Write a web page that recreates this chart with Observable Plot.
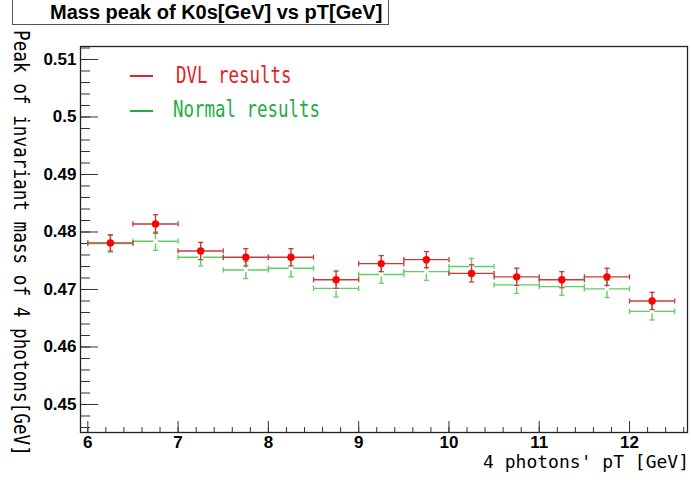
<!DOCTYPE html>
<html>
<head>
<meta charset="utf-8">
<script src="https://cdn.jsdelivr.net/npm/d3@7"></script>
<script src="https://cdn.jsdelivr.net/npm/@observablehq/plot@0.6"></script>
<style>
  html, body { margin: 0; padding: 0; background: #fff; }
  #wrap { position: relative; width: 691px; height: 484px; overflow: hidden; }
  #wrap svg { position: absolute; left: 0; top: 0; }
  .ov { position: absolute; white-space: nowrap; }
  #titlebox { left: 12px; top: -2px; width: 377px; height: 27px; box-sizing: border-box;
    border: 1.5px solid #555; background: #fff; }
  #title { left: 50px; top: 2.3px; font: bold 20px "Liberation Sans", Arial, sans-serif; line-height: 20px; color: #000; }
  .mono { font-family: "DejaVu Sans Mono", monospace; }
  .leg { font-size: 22.5px; line-height: 22.5px; transform-origin: 0 0; transform: scaleX(0.775); }
  .legline { height: 2.5px; width: 23px; }
  #ylab { left: 31px; top: 30px; font-size: 21px; line-height: 21px; color: #000;
    transform-origin: 0 0; transform: rotate(90deg) scaleX(0.842); }
  #xlab { right: 2px; top: 453px; font-size: 18px; line-height: 18px; color: #000; }
</style>
</head>
<body>
<div id="wrap"></div>
<script>
// ---- data ----
const ptCenter   = [6.25, 6.75, 7.25, 7.75, 8.25, 8.75, 9.25, 9.75, 10.25, 10.75, 11.25, 11.75, 12.25];
const ptHalfBin  = [0.25, 0.25, 0.25, 0.25, 0.25, 0.25, 0.25, 0.25, 0.25, 0.25, 0.25, 0.25, 0.25];
const dvlPeak    = [0.4781, 0.4814, 0.4767, 0.4756, 0.4756, 0.4717, 0.4745, 0.4752, 0.4728, 0.4722, 0.4717, 0.4722, 0.4680];
const dvlErr     = [0.0014, 0.0016, 0.0015, 0.0015, 0.0015, 0.0015, 0.0014, 0.0014, 0.0015, 0.0015, 0.0014, 0.0015, 0.0015];
const normalPeak = [0.4780, 0.4784, 0.4756, 0.4734, 0.4737, 0.4702, 0.4726, 0.4731, 0.4740, 0.4708, 0.4705, 0.4701, 0.4662];
const normalErr  = [0.0015, 0.0016, 0.0015, 0.0015, 0.0015, 0.0015, 0.0015, 0.0015, 0.0014, 0.0015, 0.0015, 0.0015, 0.0015];

const xTickValues = [6, 7, 8, 9, 10, 11, 12];
const xTickLabels = ["6", "7", "8", "9", "10", "11", "12"];
const xMinorTicks = d3.range(6, 12.61, 0.2).map(v => +v.toFixed(1));
const yTickValues = [0.45, 0.46, 0.47, 0.48, 0.49, 0.50, 0.51];
const yTickLabels = ["0.45", "0.46", "0.47", "0.48", "0.49", "0.5", "0.51"];
const yMinorTicks = d3.range(0.446, 0.5121, 0.002).map(v => +v.toFixed(3));
const xDomain = [5.919, 12.642];
const yDomain = [0.44513, 0.51226];

const titleText = "Mass peak of K0s[GeV] vs pT[GeV]";
const xLabelText = "4 photons' pT [GeV]";
const yLabelText = "Peak of invariant mass of 4 photons[GeV]";
const seriesNames = ["DVL results", "Normal results"];

// ---- styling ----
const RED_PT = "#ff0000", RED_BAR = "#c63c3c", GREEN_BAR = "#5fcf5f";
const LEG_RED = "#e3212b", LEG_GREEN = "#22ad45";

function rows(peaks, errs) {
  return ptCenter.map((x, i) => ({
    x, lo: x - ptHalfBin[i], hi: x + ptHalfBin[i],
    y: peaks[i], y1: peaks[i] - errs[i], y2: peaks[i] + errs[i]
  }));
}
const dvl = rows(dvlPeak, dvlErr);
const normal = rows(normalPeak, normalErr);

// cap symbols for error bar ends
const hCap = { draw(ctx) { ctx.moveTo(-2.6, 0); ctx.lineTo(2.6, 0); } };
const vCap = { draw(ctx) { ctx.moveTo(0, -2.6); ctx.lineTo(0, 2.6); } };

function errorMarks(data, color) {
  return [
    Plot.ruleY(data, { y: "y", x1: "lo", x2: "hi", stroke: color, strokeWidth: 1.4 }),
    Plot.ruleX(data, { x: "x", y1: "y1", y2: "y2", stroke: color, strokeWidth: 1.4 }),
    Plot.dot(data, { x: "lo", y: "y", symbol: vCap, stroke: color, strokeWidth: 1.3, fill: "none", r: 3 }),
    Plot.dot(data, { x: "hi", y: "y", symbol: vCap, stroke: color, strokeWidth: 1.3, fill: "none", r: 3 }),
    Plot.dot(data, { x: "x", y: "y1", symbol: hCap, stroke: color, strokeWidth: 1.3, fill: "none", r: 3 }),
    Plot.dot(data, { x: "x", y: "y2", symbol: hCap, stroke: color, strokeWidth: 1.3, fill: "none", r: 3 })
  ];
}

const chart = Plot.plot({
  width: 691,
  height: 484,
  marginLeft: 80,
  marginRight: 4,
  marginTop: 46,
  marginBottom: 52,
  style: { fontFamily: "'Liberation Sans', Arial, sans-serif", fontSize: "17px", fontWeight: "bold", color: "#000", background: "transparent" },
  x: { domain: xDomain, label: null, axis: null },
  y: { domain: yDomain, label: null, axis: null },
  marks: [
    Plot.axisY(yMinorTicks, { tickSize: -10, tickFormat: () => "", label: null, stroke: "#333" }),
    Plot.axisY(yTickValues, { tickSize: -18, tickPadding: 22, label: null, stroke: "#333",
      tickFormat: d => yTickLabels[yTickValues.indexOf(d)], fontSize: 17, fontWeight: "bold", fill: "#000" }),
    Plot.axisX(xMinorTicks, { tickSize: -5, tickFormat: () => "", label: null, stroke: "#333" }),
    Plot.axisX(xTickValues, { tickSize: -11, tickPadding: 14, label: null, stroke: "#333",
      tickFormat: d => xTickLabels[xTickValues.indexOf(d)], fontSize: 17, fontWeight: "bold", fill: "#000" }),
    ...errorMarks(normal, GREEN_BAR),
    Plot.dot(normal, { x: "x", y: "y", r: 2.2, fill: "#fff", stroke: "none" }),
    ...errorMarks(dvl, RED_BAR),
    Plot.dot(dvl, { x: "x", y: "y", r: 3.7, fill: RED_PT, stroke: "none" }),
    Plot.frame({ stroke: "#222", strokeWidth: 1.3 })
  ]
});

const wrap = document.getElementById("wrap");
wrap.appendChild(chart);

function ov(html, id, cls, style) {
  const d = document.createElement("div");
  d.className = "ov " + (cls || "");
  if (id) d.id = id;
  if (style) Object.assign(d.style, style);
  d.textContent = html;
  wrap.appendChild(d);
  return d;
}
ov("", "titlebox");
ov(titleText, "title");
ov("", null, "legline", { left: "130px", top: "74.5px", background: LEG_RED });
ov("", null, "legline", { left: "130px", top: "109.8px", background: LEG_GREEN });
ov(seriesNames[0], null, "mono leg", { left: "176px", top: "64.3px", color: LEG_RED });
ov(seriesNames[1], null, "mono leg", { left: "173px", top: "97.7px", color: LEG_GREEN });
ov(yLabelText, "ylab", "mono");
ov(xLabelText, "xlab", "mono");
</script>
</body>
</html>
